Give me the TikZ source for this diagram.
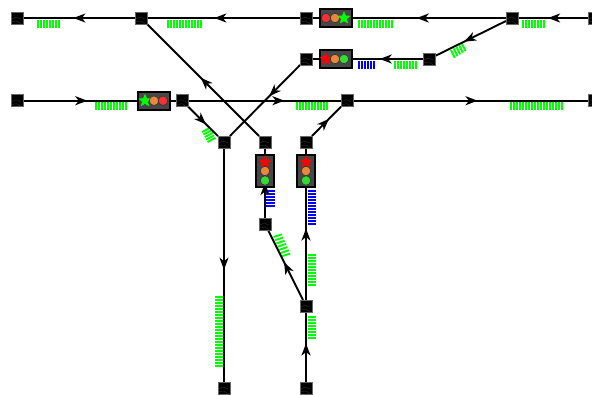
\documentclass[tikz,border=0pt]{standalone}
\usetikzlibrary{arrows.meta,decorations.markings,backgrounds,shapes.geometric}
\definecolor{tkgreen}{RGB}{0,255,0}
\definecolor{tkblue}{RGB}{0,0,255}
\definecolor{lampred}{RGB}{240,50,50}
\definecolor{lamporange}{RGB}{235,135,60}
\definecolor{lampgreen}{RGB}{50,220,50}
\tikzset{
  x=1pt,y=-1pt,
  junction/.style={draw=black!60,line width=0.6pt,fill=black,minimum size=12pt,inner sep=0pt,outer sep=0pt,
    path picture={\draw[black!78,line width=0.3pt] (path picture bounding box.west) ++(1,1) -- ++(4,-2) -- ++(5,2) ++(-10,3) -- ++(6,-1) -- ++(4,3);}},
  track/.style={draw=black,line width=1.9pt},
  flow/.style={postaction={decorate},decoration={markings,mark=at position #1 with {\arrow{Stealth[length=12pt,width=9pt,inset=3.5pt]}}}},
  gtick/.style={draw=tkgreen,line width=1.9pt},
  btick/.style={draw=tkblue,line width=1.9pt},
  sigbox/.style={draw=black,line width=2pt,fill=black!72,inner sep=0pt,outer sep=0pt},
  lamp/.style={circle,draw=black!80,line width=0.6pt,minimum size=9.5pt,inner sep=0pt},
  starlamp/.style={star,star points=5,star point ratio=2.2,minimum size=12.5pt,inner sep=0pt,fill=#1,draw=#1},
}
\newcommand{\hticks}[5]{\foreach \x in {0,...,#4}{\draw[#5] ({#1+3*\x},#2) -- ({#1+3*\x},#3);}}
\newcommand{\vticks}[5]{\foreach \y in {0,...,#4}{\draw[#5] (#2,{#1+3*\y}) -- (#3,{#1+3*\y});}}
\begin{document}
\begin{tikzpicture}
\useasboundingbox (0,0) rectangle (592,394);
\clip (0,0) rectangle (592,394);
\foreach \n/\px/\py in {a/17/18,b/141/18,c/306/18,d/512/18,e/594/18,f/306/59,g/429/59,h/17/100.7,i/182/100.7,j/347/100.7,k/594/100.7,l/224/142,m/265/142,n/306/142,o/265/224,p/306/306,q/224/388,r/306/388}
  \node[junction] (\n) at (\px,\py) {};
% signals
\node[sigbox,minimum width=32pt,minimum height=18pt] (s1) at (335.5,18) {};
\node[lamp,fill=lampred] (s1a) at (326,18) {};
\node[lamp,fill=lamporange] (s1b) at (335,18) {};
\node[starlamp=tkgreen] (s1c) at (344,18) {};
\node[sigbox,minimum width=32pt,minimum height=18pt] (s2) at (335.5,59) {};
\node[starlamp=red] (s2a) at (326,59) {};
\node[lamp,fill=lamporange] (s2b) at (335,59) {};
\node[lamp,fill=lampgreen] (s2c) at (344,59) {};
\node[sigbox,minimum width=32pt,minimum height=18pt] (s3) at (153.5,100.7) {};
\node[starlamp=tkgreen] (s3a) at (145,100.7) {};
\node[lamp,fill=lamporange] (s3b) at (154,100.7) {};
\node[lamp,fill=lampred] (s3c) at (163,100.7) {};
\node[sigbox,minimum width=18pt,minimum height=32pt] (s4) at (265,171) {};
\node[starlamp=red] (s4a) at (265,162) {};
\node[lamp,fill=lamporange] (s4b) at (265,171) {};
\node[lamp,fill=lampgreen] (s4c) at (265,180.5) {};
\node[sigbox,minimum width=18pt,minimum height=32pt] (s5) at (306,171) {};
\node[starlamp=red] (s5a) at (306,162) {};
\node[lamp,fill=lamporange] (s5b) at (306,171) {};
\node[lamp,fill=lampgreen] (s5c) at (306,180.5) {};
\begin{scope}[on background layer]
% ticks under the tracks
\hticks{38}{20}{28}{7}{gtick}
\hticks{168}{20}{28}{11}{gtick}
\hticks{359}{19.5}{28}{11}{gtick}
\hticks{523}{19.5}{28}{7}{gtick}
\hticks{395}{60.5}{69}{7}{gtick}
\hticks{359}{60.5}{69}{5}{btick}
\hticks{96}{102}{110}{10}{gtick}
\hticks{297}{102}{110}{10}{gtick}
\hticks{511}{102}{110}{17}{gtick}
\vticks{255}{308}{316}{10}{gtick}
\vticks{317}{308}{316}{7}{gtick}
\vticks{297}{215}{223}{23}{gtick}
\vticks{191}{266}{275}{5}{btick}
\vticks{191}{307.5}{316}{11}{btick}
\foreach \t in {0,...,4}{\draw[gtick] ({202+1.4*\t},{132+2.5*\t}) -- ++(8,-4.2);}
\foreach \t in {0,...,4}{\draw[gtick] ({451+2.7*\t},{50-1.7*\t}) -- ++(3.7,7.8);}
\foreach \t in {0,...,6}{\draw[gtick] ({273.5+1.4*\t},{237+3.2*\t}) -- ++(8.3,-2.7);}
\draw[track,flow=.57] (e) -- (d);
\draw[track,flow=.46] (d) -- (c);
\draw[track,flow=.56] (c) -- (b);
\draw[track,flow=.55] (b) -- (a);
\draw[track,flow=.59] (d) -- (g);
\draw[track,flow=.39] (g) -- (f);
\draw[track,flow=.44] (f) -- (l);
\draw[track,flow=.42] (h) -- (i);
\draw[track,flow=.63] (i) -- (j);
\draw[track,flow=.53] (j) -- (k);
\draw[track,flow=.6] (i) -- (l);
\draw[track,flow=.52] (m) -- (b);
\draw[track,flow=.52] (l) -- (q);
\draw[track,flow=.585] (n) -- (j);
\draw[track,flow=.47] (p) -- (n);
\draw[track,flow=.54] (p) -- (o);
\draw[track,flow=.5] (o) -- (m);
\draw[track,flow=.55] (r) -- (p);
\end{scope}
\end{tikzpicture}
\end{document}
